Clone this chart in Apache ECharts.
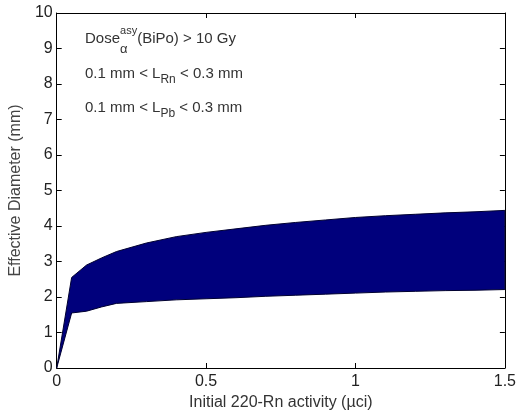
<!DOCTYPE html>
<html>
<head>
<meta charset="utf-8">
<script src="https://cdn.jsdelivr.net/npm/echarts@6/dist/echarts.min.js"></script>
<style>
html,body{margin:0;padding:0;background:#fff;}
#chart{width:519px;height:418px;}
</style>
</head>
<body>
<div id="chart"></div>
<script>
// Data
const activity = [0, 0.05, 0.1, 0.15, 0.2, 0.3, 0.4, 0.5, 0.6, 0.7, 0.8, 0.9, 1.0, 1.1, 1.2, 1.3, 1.4, 1.5];
const upperDiameter = [0, 2.55, 2.9, 3.1, 3.28, 3.52, 3.7, 3.82, 3.92, 4.02, 4.1, 4.17, 4.24, 4.29, 4.33, 4.37, 4.4, 4.44];
const lowerDiameter = [0, 1.55, 1.6, 1.72, 1.82, 1.87, 1.92, 1.95, 1.98, 2.02, 2.05, 2.08, 2.11, 2.14, 2.16, 2.18, 2.19, 2.21];
const xTicks = [0, 0.5, 1, 1.5];
const yTicks = [0, 1, 2, 3, 4, 5, 6, 7, 8, 9, 10];

const FONT = '"Liberation Sans", Arial, sans-serif';
const TXT = '#333';
const chart = echarts.init(document.getElementById('chart'));

const axisCommon = {
  axisLine: {show: true, onZero: false, lineStyle: {color: '#000', width: 1}},
  axisTick: {show: true, inside: true, length: 5, lineStyle: {color: '#000'}},
  splitLine: {show: false}
};

const mctx = document.createElement('canvas').getContext('2d');
function measure(text, size) {
  mctx.font = size + 'px ' + FONT;
  return mctx.measureText(text).width;
}
// parts: [text, size, dy, advance(bool)]
function flow(x, y, parts) {
  const out = [];
  let cx = x;
  parts.forEach(p => {
    const [text, size, dy, adv] = p;
    out.push({type: 'text', x: cx, y: y + dy, z: 100,
      style: {text: text, fontFamily: FONT, fontSize: size, fill: TXT, verticalAlign: 'middle', align: 'left'}});
    if (adv !== false) cx += measure(text, size);
  });
  return out;
}

const annotations = [].concat(
  flow(85, 39, [['Dose', 15, 0], ['\u03b1', 13, 10, false], ['asy', 11, -8], ['(BiPo) > 10 Gy', 15, 0]]),
  flow(85, 74, [['0.1 mm < L', 15, 0], ['Rn', 12, 6], [' < 0.3 mm', 15, 0]]),
  flow(85, 108, [['0.1 mm < L', 15, 0], ['Pb', 12, 6], [' < 0.3 mm', 15, 0]])
);

chart.setOption({
  animation: false,
  backgroundColor: '#fff',
  grid: {left: 55, right: 11, top: 13, bottom: 50},
  xAxis: [
    Object.assign({
      type: 'value', min: 0, max: 1.5, interval: 0.5, position: 'bottom',
      name: 'Initial 220-Rn activity (\u00b5ci)', nameLocation: 'middle', nameGap: 26,
      nameTextStyle: {fontFamily: FONT, fontSize: 16, color: '#333'},
      axisLabel: {fontFamily: FONT, fontSize: 16, color: '#222', margin: 6,
        formatter: v => xTicks.includes(v) ? String(v) : ''}
    }, axisCommon),
    Object.assign({
      type: 'value', min: 0, max: 1.5, interval: 0.5, position: 'top',
      axisLabel: {show: false}
    }, axisCommon)
  ],
  yAxis: [
    Object.assign({
      type: 'value', min: 0, max: 10, interval: 1, position: 'left',
      name: 'Effective Diameter (mm)', nameLocation: 'middle', nameGap: 27,
      nameTextStyle: {fontFamily: FONT, fontSize: 16, color: '#444'},
      axisLabel: {fontFamily: FONT, fontSize: 16, color: '#222', margin: 4,
        formatter: v => yTicks.includes(v) ? String(v) : ''}
    }, axisCommon),
    Object.assign({
      type: 'value', min: 0, max: 10, interval: 1, position: 'right',
      axisLabel: {show: false}
    }, axisCommon)
  ],
  series: [
    {
      type: 'custom',
      coordinateSystem: 'cartesian2d',
      data: [[0, 0]],
      renderItem: function (params, api) {
        const pts = [];
        for (let i = 0; i < activity.length; i++) pts.push(api.coord([activity[i], upperDiameter[i]]));
        for (let i = activity.length - 1; i >= 0; i--) pts.push(api.coord([activity[i], lowerDiameter[i]]));
        return {type: 'polygon', shape: {points: pts},
          style: {fill: '#00007c', stroke: '#000030', lineWidth: 1}};
      },
      z: 2
    }
  ],
  graphic: annotations
});
</script>
</body>
</html>
